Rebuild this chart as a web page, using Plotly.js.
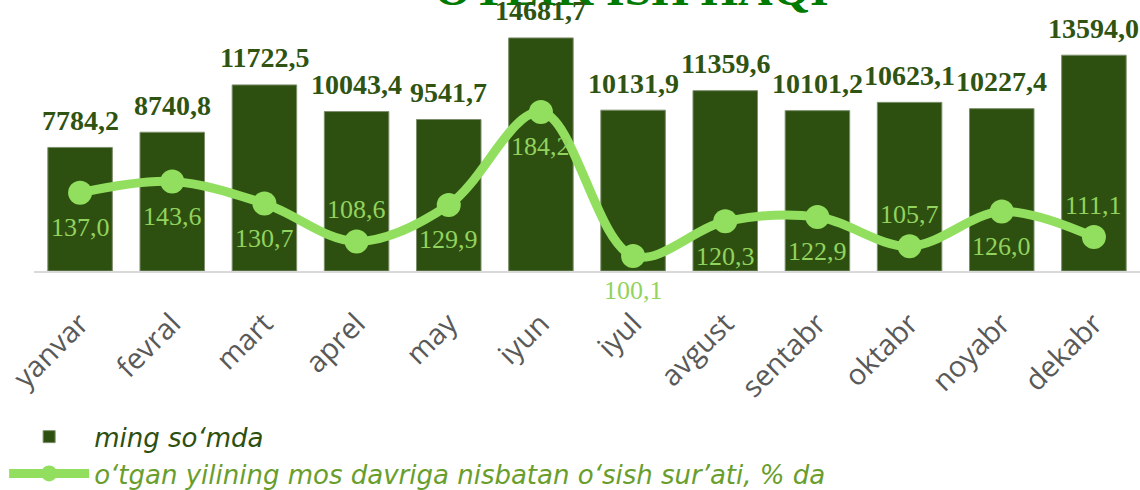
<!DOCTYPE html>
<html>
<head>
<meta charset="utf-8">
<script src="https://cdn.plot.ly/plotly-3.0.1.min.js"></script>
<style>html,body{margin:0;padding:0;background:#fff;}#chart{width:1140px;height:490px;}</style>
</head>
<body>
<div id="chart"></div>
<script>
const titleText = 'OYLIK ISH HAQI';
const months = ['yanvar','fevral','mart','aprel','may','iyun','iyul','avgust','sentabr','oktabr','noyabr','dekabr'];
const wage = [7784.2, 8740.8, 11722.5, 10043.4, 9541.7, 14681.7, 10131.9, 11359.6, 10101.2, 10623.1, 10227.4, 13594.0];
const growth = [137.0, 143.6, 130.7, 108.6, 129.9, 184.2, 100.1, 120.3, 122.9, 105.7, 126.0, 111.1];
const growthLabelAbove = [false, false, false, true, false, false, false, false, false, true, false, true];
const wageName = 'ming so‘mda';
const growthName = 'o‘tgan yilining mos davriga nisbatan o‘sish sur’ati, % da';

const fmt = v => v.toFixed(1).replace('.', ',');

const barColor = '#2d5010';
const lineColor = '#92df5f';

const traces = [
  {
    type: 'bar', x: months, y: wage, name: '<span style="color:#2d5010">' + wageName + '</span>',
    marker: {color: barColor, line: {color: '#7d8f6c', width: 1}},
    hoverinfo: 'skip'
  },
  {
    type: 'scatter', mode: 'lines+markers', x: months, y: growth, yaxis: 'y2',
    name: '<span style="color:#6a9e2c">' + growthName + '</span>',
    line: {color: lineColor, width: 9, shape: 'spline', smoothing: 1},
    marker: {color: lineColor, size: 24},
    cliponaxis: false, hoverinfo: 'skip'
  }
];

const annotations = [{
  text: titleText, xref: 'paper', yref: 'paper', x: 0.54, y: 1, xanchor: 'center', yanchor: 'bottom',
  yshift: 0, showarrow: false,
  font: {family: 'Liberation Serif, serif', size: 48, color: '#007a00', weight: 'bold'}
}];
months.forEach((m, i) => {
  annotations.push({
    x: m, y: wage[i], xref: 'x', yref: 'y', text: fmt(wage[i]), showarrow: false,
    yanchor: 'middle', yshift: 27,
    font: {family: 'Liberation Serif, serif', size: 28, color: '#2f5412', weight: 'bold'}
  });
  annotations.push({
    x: m, y: growth[i], xref: 'x', yref: 'y2', text: fmt(growth[i]), showarrow: false,
    yanchor: 'middle', yshift: growthLabelAbove[i] ? 32 : -35,
    font: {family: 'Liberation Serif, serif', size: 26, color: '#92d35e'}
  });
});

const layout = {
  width: 1140, height: 490,
  margin: {l: 34, r: 0, t: 17, b: 219, autoexpand: false},
  paper_bgcolor: '#ffffff', plot_bgcolor: '#ffffff',
  bargap: 0.3,
  showlegend: true,
  legend: {
    orientation: 'v', x: -0.027, xanchor: 'left', y: -0.56, yanchor: 'top',
    font: {family: 'DejaVu Sans, sans-serif', size: 26, style: 'italic'},
    bgcolor: 'rgba(0,0,0,0)', tracegroupgap: 0, itemwidth: 80
  },
  xaxis: {
    type: 'category', range: [-0.5, 11.5], automargin: false, tickangle: -45,
    showline: true, linecolor: '#d9d9d9', linewidth: 2,
    ticks: '', showgrid: false, zeroline: false, ticklabelstandoff: 22,
    tickfont: {family: 'Open Sans, sans-serif', size: 29, color: '#595959'}
  },
  yaxis: {range: [0, 16000], visible: false, showgrid: false, zeroline: false, automargin: false},
  yaxis2: {range: [91.3, 239.7], overlaying: 'y', side: 'right', visible: false, showgrid: false, zeroline: false, automargin: false},
  annotations: annotations
};

Plotly.newPlot('chart', traces, layout, {displayModeBar: false, staticPlot: true});
</script>
</body>
</html>
